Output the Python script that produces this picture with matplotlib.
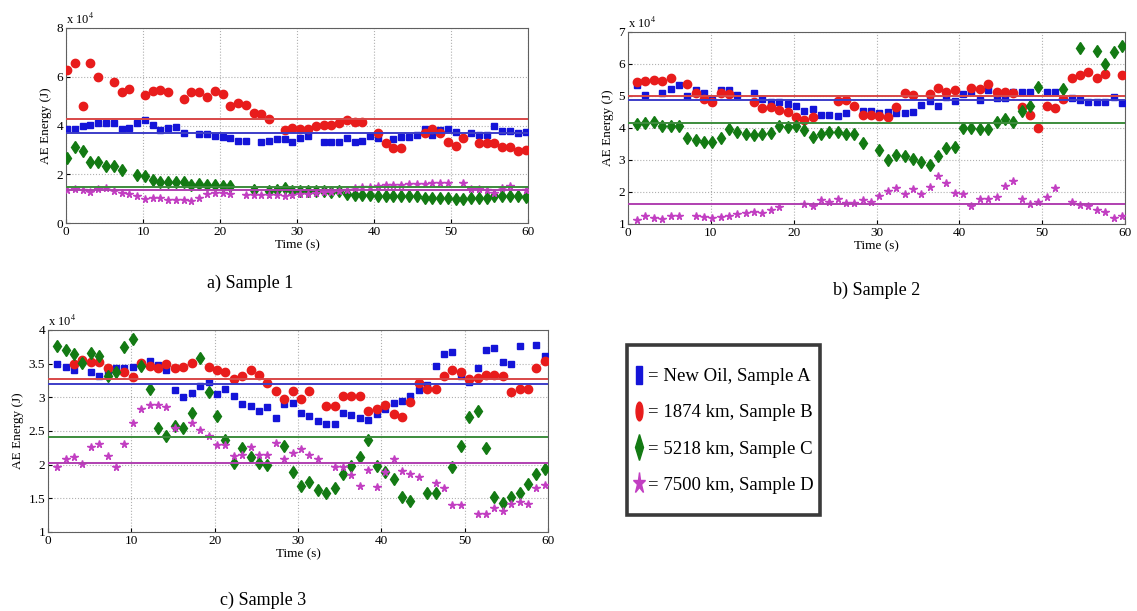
import numpy as np
import matplotlib
matplotlib.use("Agg")
import matplotlib.pyplot as plt
from matplotlib.lines import Line2D
from matplotlib.markers import MarkerStyle
from matplotlib.patches import Rectangle
from matplotlib.transforms import Affine2D

nan = np.nan

# ---------------- Data (AE energy, units of 1e4 J) ---------------- #
# Sample 1: one reading per second starting at t = 0
s1_new_oil = [3.85, 3.85, 3.96, 4.02, 4.12, 4.12, 4.12, 3.85, 3.89, 4.12,
              4.23, 4.01, 3.82, 3.89, 3.92, 3.71, nan, 3.64, 3.67, 3.57,
              3.52, 3.48, 3.38, 3.38, nan, 3.33, 3.38, 3.44, 3.44, 3.34,
              3.48, 3.55, nan, 3.34, 3.34, 3.34, 3.48, 3.34, 3.37, 3.57,
              3.48, nan, 3.44, 3.52, 3.52, 3.59, 3.85, 3.59, 3.82, 3.85,
              3.75, nan, 3.71, 3.59, 3.62, 3.96, 3.79, 3.79, 3.71, 3.75]
s1_1874 = [6.28, 6.55, 4.80, 6.55, 5.98, nan, 5.80, 5.39, 5.50, nan,
           5.25, 5.43, 5.46, 5.39, nan, 5.07, 5.39, 5.36, 5.18, 5.42,
           5.29, 4.80, 4.91, 4.84, 4.50, 4.47, 4.27, nan, 3.80, 3.91,
           3.85, 3.85, 3.98, 4.01, 4.01, 4.09, 4.23, 4.16, 4.16, nan,
           3.71, 3.27, 3.07, 3.07, nan, nan, 3.71, 3.85, 3.68, 3.34,
           3.14, 3.47, nan, 3.27, 3.27, 3.30, 3.11, 3.11, 2.97, 3.00]
s1_5218 = [2.66, 3.11, 2.96, 2.52, 2.50, 2.35, 2.35, 2.18, nan, 1.98,
           1.91, 1.75, 1.68, 1.68, 1.68, 1.68, 1.57, 1.60, 1.54, 1.54,
           1.50, 1.50, nan, nan, 1.36, nan, 1.30, 1.34, 1.42, 1.30,
           1.32, 1.32, 1.30, 1.30, 1.26, 1.30, 1.20, 1.16, 1.16, 1.16,
           1.12, 1.12, 1.12, 1.12, 1.09, 1.09, 1.02, 1.02, 1.02, 1.02,
           1.00, 1.00, 1.02, 1.02, 1.02, 1.09, 1.09, 1.09, 1.09, 1.08]
s1_7500 = [1.34, 1.39, 1.34, 1.26, 1.39, 1.43, 1.30, 1.23, 1.20, 1.09,
           1.00, 1.02, 1.02, 0.95, 0.95, 0.95, 0.91, 1.02, 1.20, 1.23,
           1.23, 1.20, nan, 1.16, 1.16, 1.16, 1.16, 1.16, 1.09, 1.16,
           1.20, 1.20, 1.23, 1.26, 1.26, 1.30, 1.34, 1.43, 1.46, 1.47,
           1.50, 1.54, 1.57, 1.54, 1.60, 1.60, 1.61, 1.64, 1.66, 1.64,
           nan, 1.66, 1.39, 1.39, 1.36, 1.23, 1.43, 1.53, nan, 1.35]
s1_means = [3.68, 4.26, 1.47, 1.34]

# Sample 2: one reading per second starting at t = 1
s2_new_oil = [5.34, 5.03, nan, 5.08, 5.23, 5.34, 5.00, 5.18, 5.08, 4.87,
              5.18, 5.18, 5.03, nan, 5.08, 4.92, 4.82, 4.80, 4.74, 4.68,
              4.53, 4.59, 4.40, 4.40, 4.38, 4.46, nan, 4.53, 4.53, 4.46,
              4.51, 4.46, 4.46, 4.49, 4.72, 4.84, 4.69, 4.97, 4.84, 5.05,
              5.13, 4.87, 5.18, 4.94, 4.94, 5.13, 5.13, 5.13, nan, 5.13,
              5.13, 4.90, 4.94, 4.87, 4.80, 4.80, 4.82, 4.97, 4.77]
s2_1874 = [5.44, 5.46, 5.49, 5.47, 5.55, nan, 5.36, 5.08, 4.90, 4.82,
           5.08, 5.06, nan, nan, 4.82, 4.61, 4.66, 4.56, 4.49, 4.35,
           4.25, 4.35, nan, nan, 4.84, 4.89, 4.68, 4.42, 4.40, 4.38,
           4.33, 4.66, 5.10, 5.03, nan, 5.05, 5.26, 5.13, 5.20, nan,
           5.26, 5.23, 5.39, 5.13, 5.11, 5.10, 4.66, 4.40, 3.99, 4.69,
           4.61, 4.90, 5.57, 5.65, 5.75, 5.57, 5.68, nan, 5.67]
s2_5218 = [4.12, 4.17, 4.18, 4.07, 4.07, 4.07, 3.70, 3.63, 3.57, 3.55,
           3.70, 3.97, 3.86, 3.80, 3.78, 3.81, 3.85, 4.06, 4.04, 4.06,
           3.94, 3.73, 3.80, 3.88, 3.86, 3.80, 3.81, 3.52, nan, 3.31,
           3.00, 3.16, 3.13, 3.02, 2.93, 2.85, 3.11, 3.37, 3.42, 3.99,
           3.99, 3.97, 3.97, 4.18, 4.28, 4.18, 4.53, 4.69, 5.29, nan,
           nan, 5.21, nan, 6.50, nan, 6.41, 5.99, 6.36, 6.56]
s2_7500 = [1.13, 1.24, 1.20, 1.15, 1.24, 1.26, nan, 1.24, 1.22, 1.18,
           1.22, 1.24, 1.31, 1.34, 1.37, 1.34, 1.44, 1.52, nan, nan,
           1.62, 1.55, 1.76, 1.70, 1.78, 1.65, 1.67, 1.76, 1.70, 1.86,
           2.04, 2.12, 1.94, 2.09, 1.93, 2.17, 2.51, 2.27, 1.96, 1.93,
           1.57, 1.79, 1.79, 1.83, 2.20, 2.35, 1.79, 1.62, 1.70, 1.83,
           2.14, nan, 1.70, 1.60, 1.55, 1.44, 1.37, 1.20, 1.24]
s2_means = [4.89, 5.01, 4.17, 1.64]

# Sample 3: one reading per second starting at t = 1
s3_new_oil = [3.50, 3.45, 3.40, nan, 3.37, 3.31, 3.38, 3.43, 3.43, 3.45,
              nan, 3.54, 3.48, 3.40, 3.11, 3.01, 3.07, 3.17, 3.23, 3.05,
              3.13, 3.02, 2.90, 2.87, 2.80, 2.86, 2.69, 2.90, 2.91, 2.77,
              2.72, 2.65, 2.60, 2.61, 2.76, 2.74, 2.70, 2.67, 2.75, 2.82,
              2.92, 2.94, 3.02, 3.11, 3.18, 3.46, 3.65, 3.67, 3.31, 3.23,
              3.43, 3.70, 3.74, 3.53, 3.50, 3.76, nan, 3.77, 3.61]
s3_1874 = [nan, nan, 3.50, 3.55, 3.52, 3.52, 3.44, nan, 3.37, 3.30,
           3.51, 3.47, 3.43, 3.49, 3.43, 3.45, 3.51, nan, 3.45, 3.40,
           3.37, 3.27, 3.32, 3.40, 3.33, 3.22, 3.10, 2.98, 3.10, 2.97,
           3.10, nan, 2.87, 2.87, 3.02, 3.02, 3.02, 2.80, 2.83, 2.88,
           2.75, 2.71, 2.93, 3.22, 3.12, 3.12, 3.32, 3.40, 3.38, 3.27,
           3.28, 3.33, 3.33, 3.32, 3.08, 3.12, 3.12, 3.44, 3.54]
s3_5218 = [3.76, 3.71, 3.65, 3.51, 3.66, 3.61, 3.31, 3.38, 3.75, 3.86,
           3.46, 3.12, 2.55, 2.42, 2.57, 2.54, 2.77, 3.59, 3.08, 2.72,
           2.36, 2.03, 2.25, 2.12, 2.02, 1.99, nan, 2.27, 1.89, 1.68,
           1.74, 1.63, 1.58, 1.65, 1.86, 1.98, 2.11, 2.37, 1.98, 1.89,
           1.79, 1.52, 1.46, nan, 1.58, 1.58, nan, 1.97, 2.27, 2.71,
           2.79, 2.25, 1.52, 1.43, 1.52, 1.58, 1.71, 1.86, 1.94]
s3_7500 = [1.97, 2.09, 2.12, 2.01, 2.26, 2.30, 2.13, 1.97, 2.31, 2.62,
           2.82, 2.88, 2.88, 2.85, 2.54, nan, 2.62, 2.52, 2.42, 2.29,
           2.29, 2.13, 2.14, 2.26, 2.15, 2.14, 2.32, 2.09, 2.18, 2.24,
           2.14, 2.09, nan, 1.97, 1.97, 1.84, 1.68, 1.92, 1.67, 1.89,
           2.08, 1.91, 1.86, 1.82, nan, 1.73, 1.65, 1.40, 1.40, nan,
           1.27, 1.26, 1.35, 1.31, 1.42, 1.45, 1.41, 1.66, 1.70]
s3_means = [3.20, 3.27, 2.41, 2.02]

labels = ["New Oil, Sample A", "1874 km, Sample B",
          "5218 km, Sample C", "7500 km, Sample D"]
captions = ["a) Sample 1", "b) Sample 2", "c) Sample 3"]

# ---------------- Style ---------------- #
SAMPLE_PERIOD = 1.009  # s, logger interval (slightly above 1 s)
colors = ["#1414d8", "#e81c1c", "#137a13", "#c23fc2"]
line_colors = ["#3d3dc8", "#d84848", "#3c8c3c", "#b040b0"]
markers = ["s", "o", "d", "*"]
msizes = [4.4, 6.0, 6.2, 5.4]

plt.rcParams['font.family'] = ['Liberation Serif', 'DejaVu Serif']
plt.rcParams['mathtext.fontset'] = 'stix'

W, H = 1137, 611
fig = plt.figure(figsize=(W / 100, H / 100), dpi=100)


def px_axes(left, top, right, bottom):
    return fig.add_axes([left / W, 1 - bottom / H, (right - left) / W, (bottom - top) / H])


def draw_panel(ax, t, series, means, ylim, yticks):
    for vals, c, m, ms in zip(series, colors, markers, msizes):
        ax.plot(t, vals, linestyle='none', marker=m, color=c, markersize=ms,
                markeredgecolor=c, zorder=3)
    for mval, c in zip(means, line_colors):
        ax.axhline(mval, color=c, lw=1.4, zorder=4)
    ax.set_xlim(0, 60)
    ax.set_ylim(*ylim)
    ax.set_xticks(range(0, 61, 10))
    ax.set_yticks(yticks)
    ax.set_yticklabels([f"{v:g}" for v in yticks])
    ax.grid(True, color='#b0b0b0', linestyle=':', lw=0.8)
    ax.tick_params(direction='in', length=3, labelsize=9.5, pad=2)
    for sp in ax.spines.values():
        sp.set_color('#606060')
    ax.set_xlabel("Time (s)", fontsize=9.5, labelpad=1)
    ax.set_ylabel("AE Energy (J)", fontsize=9.5, labelpad=3)
    ax.text(0.0, 1.005, r"x 10$^4$", transform=ax.transAxes, fontsize=9,
            ha='left', va='bottom')


# panel a
t1 = np.arange(len(s1_new_oil)) * SAMPLE_PERIOD + 0.15
ax1 = px_axes(66, 28, 528, 223)
draw_panel(ax1, t1, [s1_new_oil, s1_1874, s1_5218, s1_7500], s1_means,
           (0, 8), [0, 2, 4, 6, 8])

# panel b
t2 = np.arange(len(s2_new_oil)) * SAMPLE_PERIOD + 1.1
ax2 = px_axes(628, 32, 1125, 224)
draw_panel(ax2, t2, [s2_new_oil, s2_1874, s2_5218, s2_7500], s2_means,
           (1, 7), [1, 2, 3, 4, 5, 6, 7])

# panel c
t3 = np.arange(len(s3_new_oil)) * SAMPLE_PERIOD + 1.1
ax3 = px_axes(48, 330, 548, 532)
draw_panel(ax3, t3, [s3_new_oil, s3_1874, s3_5218, s3_7500], s3_means,
           (1, 4), [1, 1.5, 2, 2.5, 3, 3.5, 4])

# captions
fig.text(250 / W, 1 - 283 / H, captions[0], fontsize=13, ha='center', va='center')
fig.text(877 / W, 1 - 290 / H, captions[1], fontsize=13, ha='center', va='center')
fig.text(263 / W, 1 - 600 / H, captions[2], fontsize=13, ha='center', va='center')

# legend: own frame, tall markers
box_l, box_t, box_r, box_b = 627, 345, 820, 515
fig.patches.append(Rectangle((box_l / W, 1 - box_b / H), (box_r - box_l) / W,
                             (box_b - box_t) / H, transform=fig.transFigure,
                             facecolor='white', edgecolor='#3a3a3a', lw=2.6,
                             zorder=1))
handles = [
    Line2D([], [], linestyle='none', color=colors[0],
           marker=MarkerStyle('s', transform=Affine2D().scale(0.5, 1.6)), markersize=8),
    Line2D([], [], linestyle='none', color=colors[1],
           marker=MarkerStyle('o', transform=Affine2D().scale(0.55, 1.5)), markersize=9),
    Line2D([], [], linestyle='none', color=colors[2],
           marker=MarkerStyle('d', transform=Affine2D().scale(0.8, 1.5)), markersize=9),
    Line2D([], [], linestyle='none', color=colors[3],
           marker=MarkerStyle('*', transform=Affine2D().scale(0.8, 1.4)), markersize=11),
]
leg_labels = ["= " + lab for lab in labels]
leg = fig.legend(handles, leg_labels, loc='center left',
                 bbox_to_anchor=(633 / W, 1 - 431 / H), borderaxespad=0,
                 fontsize=13.5, frameon=False, handlelength=0.6,
                 handletextpad=0.2, labelspacing=1.02, borderpad=0)
leg.set_zorder(2)

fig.savefig("out.png", dpi=100)
